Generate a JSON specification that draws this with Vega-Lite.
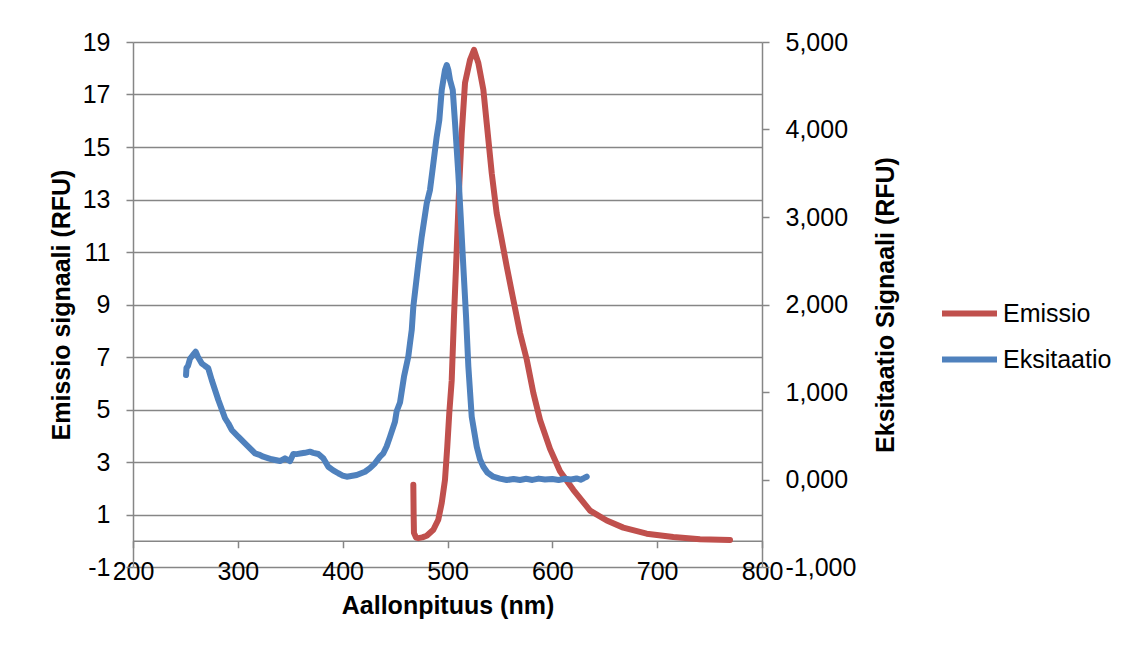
{
  "$schema": "https://vega.github.io/schema/vega-lite/v6.json",
  "width": 629,
  "height": 525,
  "autosize": "none",
  "padding": {"left": 133, "top": 42, "right": 369, "bottom": 80},
  "background": "white",
  "config": {
    "view": {"stroke": null},
    "font": "Liberation Sans",
    "axis": {
      "labelFont": "Liberation Sans",
      "titleFont": "Liberation Sans",
      "labelFontSize": 25,
      "titleFontSize": 25,
      "titleFontWeight": "bold",
      "labelColor": "#000000",
      "titleColor": "#000000",
      "domainColor": "#868686",
      "tickColor": "#868686",
      "gridColor": "#868686",
      "domainWidth": 1.5,
      "tickWidth": 1.5,
      "gridWidth": 1.5,
      "tickSize": 7
    },
    "legend": {
      "labelFont": "Liberation Sans",
      "labelFontSize": 25,
      "labelColor": "#000000"
    }
  },
  "data": {
    "values": [
      {"series": "Emissio", "nm": 467.4, "v": 2.13},
      {"series": "Emissio", "nm": 467.7, "v": 1.0},
      {"series": "Emissio", "nm": 468.0, "v": 0.3},
      {"series": "Emissio", "nm": 470.0, "v": 0.12},
      {"series": "Emissio", "nm": 472.2, "v": 0.1},
      {"series": "Emissio", "nm": 476.0, "v": 0.13},
      {"series": "Emissio", "nm": 480.2, "v": 0.19},
      {"series": "Emissio", "nm": 486.5, "v": 0.42},
      {"series": "Emissio", "nm": 491.2, "v": 0.8},
      {"series": "Emissio", "nm": 494.5, "v": 1.44},
      {"series": "Emissio", "nm": 497.6, "v": 2.32},
      {"series": "Emissio", "nm": 499.8, "v": 3.59},
      {"series": "Emissio", "nm": 501.7, "v": 4.86},
      {"series": "Emissio", "nm": 504.0, "v": 6.1},
      {"series": "Emissio", "nm": 506.2, "v": 8.54},
      {"series": "Emissio", "nm": 508.8, "v": 11.09},
      {"series": "Emissio", "nm": 511.3, "v": 13.63},
      {"series": "Emissio", "nm": 513.6, "v": 15.53},
      {"series": "Emissio", "nm": 516.7, "v": 17.44},
      {"series": "Emissio", "nm": 521.5, "v": 18.32},
      {"series": "Emissio", "nm": 525.3, "v": 18.7},
      {"series": "Emissio", "nm": 529.4, "v": 18.2},
      {"series": "Emissio", "nm": 534.2, "v": 17.18},
      {"series": "Emissio", "nm": 537.4, "v": 15.91},
      {"series": "Emissio", "nm": 542.2, "v": 14.0},
      {"series": "Emissio", "nm": 546.9, "v": 12.48},
      {"series": "Emissio", "nm": 551.7, "v": 11.47},
      {"series": "Emissio", "nm": 556.5, "v": 10.45},
      {"series": "Emissio", "nm": 562.8, "v": 9.18},
      {"series": "Emissio", "nm": 569.2, "v": 7.91},
      {"series": "Emissio", "nm": 575.6, "v": 6.9},
      {"series": "Emissio", "nm": 581.9, "v": 5.63},
      {"series": "Emissio", "nm": 588.3, "v": 4.6},
      {"series": "Emissio", "nm": 597.8, "v": 3.5},
      {"series": "Emissio", "nm": 607.3, "v": 2.65},
      {"series": "Emissio", "nm": 620.0, "v": 1.94},
      {"series": "Emissio", "nm": 636.0, "v": 1.15},
      {"series": "Emissio", "nm": 651.9, "v": 0.77},
      {"series": "Emissio", "nm": 667.7, "v": 0.5},
      {"series": "Emissio", "nm": 690.0, "v": 0.27},
      {"series": "Emissio", "nm": 715.4, "v": 0.14},
      {"series": "Emissio", "nm": 740.9, "v": 0.06},
      {"series": "Emissio", "nm": 769.5, "v": 0.03},

      {"series": "Eksitaatio", "nm": 250.6, "v": 1194},
      {"series": "Eksitaatio", "nm": 251.0, "v": 1274},
      {"series": "Eksitaatio", "nm": 252.5, "v": 1300},
      {"series": "Eksitaatio", "nm": 254.4, "v": 1380},
      {"series": "Eksitaatio", "nm": 257.0, "v": 1420},
      {"series": "Eksitaatio", "nm": 259.8, "v": 1460},
      {"series": "Eksitaatio", "nm": 262.0, "v": 1400},
      {"series": "Eksitaatio", "nm": 265.5, "v": 1328},
      {"series": "Eksitaatio", "nm": 268.5, "v": 1300},
      {"series": "Eksitaatio", "nm": 271.8, "v": 1271},
      {"series": "Eksitaatio", "nm": 275.1, "v": 1137},
      {"series": "Eksitaatio", "nm": 281.4, "v": 909},
      {"series": "Eksitaatio", "nm": 287.8, "v": 700},
      {"series": "Eksitaatio", "nm": 291.0, "v": 640},
      {"series": "Eksitaatio", "nm": 294.2, "v": 566},
      {"series": "Eksitaatio", "nm": 300.4, "v": 489},
      {"series": "Eksitaatio", "nm": 308.5, "v": 394},
      {"series": "Eksitaatio", "nm": 316.4, "v": 299},
      {"series": "Eksitaatio", "nm": 320.0, "v": 285},
      {"series": "Eksitaatio", "nm": 324.3, "v": 261},
      {"series": "Eksitaatio", "nm": 332.3, "v": 231},
      {"series": "Eksitaatio", "nm": 340.2, "v": 211},
      {"series": "Eksitaatio", "nm": 345.0, "v": 242},
      {"series": "Eksitaatio", "nm": 349.8, "v": 211},
      {"series": "Eksitaatio", "nm": 352.9, "v": 291},
      {"series": "Eksitaatio", "nm": 356.0, "v": 290},
      {"series": "Eksitaatio", "nm": 360.9, "v": 299},
      {"series": "Eksitaatio", "nm": 364.0, "v": 305},
      {"series": "Eksitaatio", "nm": 368.8, "v": 318},
      {"series": "Eksitaatio", "nm": 372.0, "v": 305},
      {"series": "Eksitaatio", "nm": 376.8, "v": 291},
      {"series": "Eksitaatio", "nm": 381.5, "v": 242},
      {"series": "Eksitaatio", "nm": 386.3, "v": 146},
      {"series": "Eksitaatio", "nm": 391.0, "v": 105},
      {"series": "Eksitaatio", "nm": 395.8, "v": 71},
      {"series": "Eksitaatio", "nm": 400.0, "v": 45},
      {"series": "Eksitaatio", "nm": 403.9, "v": 32},
      {"series": "Eksitaatio", "nm": 408.0, "v": 40},
      {"series": "Eksitaatio", "nm": 413.4, "v": 51},
      {"series": "Eksitaatio", "nm": 421.3, "v": 89},
      {"series": "Eksitaatio", "nm": 426.0, "v": 130},
      {"series": "Eksitaatio", "nm": 430.8, "v": 185},
      {"series": "Eksitaatio", "nm": 435.6, "v": 261},
      {"series": "Eksitaatio", "nm": 438.8, "v": 299},
      {"series": "Eksitaatio", "nm": 442.0, "v": 380},
      {"series": "Eksitaatio", "nm": 445.2, "v": 490},
      {"series": "Eksitaatio", "nm": 449.9, "v": 660},
      {"series": "Eksitaatio", "nm": 451.5, "v": 780},
      {"series": "Eksitaatio", "nm": 454.7, "v": 880},
      {"series": "Eksitaatio", "nm": 458.5, "v": 1175},
      {"series": "Eksitaatio", "nm": 462.6, "v": 1403},
      {"series": "Eksitaatio", "nm": 464.2, "v": 1557},
      {"series": "Eksitaatio", "nm": 465.9, "v": 1709},
      {"series": "Eksitaatio", "nm": 467.4, "v": 1975},
      {"series": "Eksitaatio", "nm": 472.2, "v": 2471},
      {"series": "Eksitaatio", "nm": 475.4, "v": 2775},
      {"series": "Eksitaatio", "nm": 480.2, "v": 3157},
      {"series": "Eksitaatio", "nm": 483.3, "v": 3309},
      {"series": "Eksitaatio", "nm": 486.5, "v": 3614},
      {"series": "Eksitaatio", "nm": 489.7, "v": 3918},
      {"series": "Eksitaatio", "nm": 492.2, "v": 4109},
      {"series": "Eksitaatio", "nm": 494.5, "v": 4451},
      {"series": "Eksitaatio", "nm": 497.6, "v": 4680},
      {"series": "Eksitaatio", "nm": 499.3, "v": 4737},
      {"series": "Eksitaatio", "nm": 500.8, "v": 4680},
      {"series": "Eksitaatio", "nm": 502.4, "v": 4566},
      {"series": "Eksitaatio", "nm": 505.0, "v": 4451},
      {"series": "Eksitaatio", "nm": 507.2, "v": 4071},
      {"series": "Eksitaatio", "nm": 510.3, "v": 3499},
      {"series": "Eksitaatio", "nm": 512.6, "v": 3003},
      {"series": "Eksitaatio", "nm": 515.1, "v": 2432},
      {"series": "Eksitaatio", "nm": 517.7, "v": 1861},
      {"series": "Eksitaatio", "nm": 519.9, "v": 1289},
      {"series": "Eksitaatio", "nm": 523.1, "v": 718},
      {"series": "Eksitaatio", "nm": 527.9, "v": 375},
      {"series": "Eksitaatio", "nm": 531.0, "v": 230},
      {"series": "Eksitaatio", "nm": 534.2, "v": 146},
      {"series": "Eksitaatio", "nm": 538.0, "v": 80},
      {"series": "Eksitaatio", "nm": 543.7, "v": 32},
      {"series": "Eksitaatio", "nm": 550.0, "v": 10},
      {"series": "Eksitaatio", "nm": 556.5, "v": -6},
      {"series": "Eksitaatio", "nm": 563.0, "v": 5},
      {"series": "Eksitaatio", "nm": 569.2, "v": -6},
      {"series": "Eksitaatio", "nm": 575.0, "v": 8},
      {"series": "Eksitaatio", "nm": 581.0, "v": -5},
      {"series": "Eksitaatio", "nm": 587.0, "v": 10},
      {"series": "Eksitaatio", "nm": 593.0, "v": 0},
      {"series": "Eksitaatio", "nm": 600.0, "v": 5},
      {"series": "Eksitaatio", "nm": 606.0, "v": -5},
      {"series": "Eksitaatio", "nm": 612.0, "v": 8},
      {"series": "Eksitaatio", "nm": 618.0, "v": 0},
      {"series": "Eksitaatio", "nm": 623.0, "v": 12},
      {"series": "Eksitaatio", "nm": 627.0, "v": -2},
      {"series": "Eksitaatio", "nm": 630.0, "v": 15},
      {"series": "Eksitaatio", "nm": 632.8, "v": 32}
    ]
  },
  "encoding": {
    "x": {
      "field": "nm",
      "type": "quantitative",
      "scale": {"domain": [200, 800], "nice": false, "zero": false},
      "axis": {
        "title": "Aallonpituus (nm)",
        "values": [200, 300, 400, 500, 600, 700, 800],
        "format": "d",
        "grid": false,
        "offset": -26.25,
        "labelPadding": 12,
        "titlePadding": 9,
        "labelFlush": false,
        "labelOverlap": false
      }
    },
    "color": {
      "field": "series",
      "type": "nominal",
      "scale": {"domain": ["Emissio", "Eksitaatio"], "range": ["#C0504D", "#4F81BD"]},
      "legend": {
        "title": null,
        "orient": "none",
        "legendX": 806,
        "legendY": 241,
        "padding": 0,
        "symbolType": "stroke",
        "symbolSize": 3025,
        "symbolStrokeWidth": 6,
        "labelOffset": 3,
        "rowPadding": 2
      }
    }
  },
  "layer": [
    {
      "transform": [{"filter": "datum.series == 'Emissio'"}],
      "mark": {"type": "line", "strokeWidth": 6, "strokeCap": "round", "strokeJoin": "round"},
      "encoding": {
        "y": {
          "field": "v",
          "type": "quantitative",
          "scale": {"domain": [-1, 19], "nice": false, "zero": false},
          "axis": {
            "orient": "left",
            "title": "Emissio signaali (RFU)",
            "values": [-1, 1, 3, 5, 7, 9, 11, 13, 15, 17, 19],
            "labelExpr": "datum.value < 0 ? '-' + abs(datum.value) : '' + datum.value",
            "grid": true,
            "labelPadding": 16,
            "titlePadding": 8,
            "labelOverlap": false,
            "labelFlush": false
          }
        }
      }
    },
    {
      "transform": [{"filter": "datum.series == 'Eksitaatio'"}],
      "mark": {"type": "line", "strokeWidth": 6, "strokeCap": "round", "strokeJoin": "round"},
      "encoding": {
        "y": {
          "field": "v",
          "type": "quantitative",
          "scale": {"domain": [-1000, 5000], "nice": false, "zero": false},
          "axis": {
            "orient": "right",
            "title": "Eksitaatio Signaali (RFU)",
            "values": [-1000, 0, 1000, 2000, 3000, 4000, 5000],
            "labelExpr": "datum.value == 0 ? '0,000' : (datum.value < 0 ? '-' : '') + format(abs(datum.value), ',')",
            "grid": false,
            "labelPadding": 16,
            "titlePadding": 18,
            "titleAngle": 270,
            "titleBaseline": "top",
            "labelOverlap": false,
            "labelFlush": false
          }
        }
      }
    }
  ],
  "resolve": {"scale": {"y": "independent"}}
}
